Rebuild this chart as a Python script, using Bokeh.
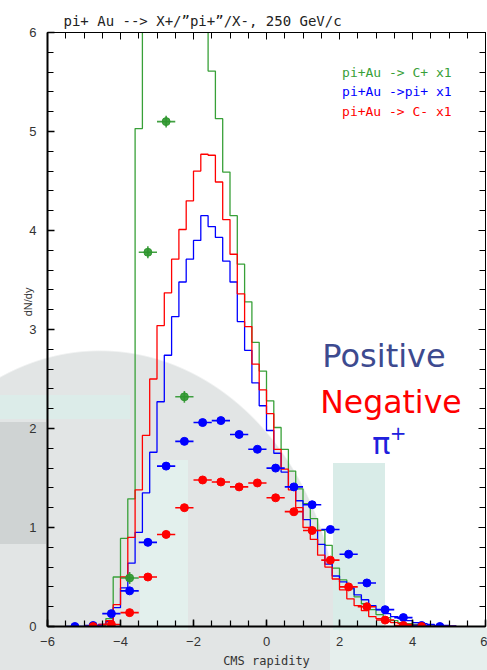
import numpy as np
from bokeh.plotting import figure
from bokeh.models import Range1d, LinearAxis, SingleIntervalTicker, Label
from bokeh.embed import file_html
from bokeh.resources import INLINE

# ---------------- data ----------------
bin_width = 0.2
bin_left = [round(-5.0 + 0.2 * i, 1) for i in range(51)]   # -5.0 ... 5.0

hist_cplus = [0, 0.005, 0.01, 0.08, 0.5, 0.89, 1.29, 5.03, 6.6, 7.4,
              8.0, 8.5, 8.7, 8.6, 8.2, 7.5, 6.7, 5.61, 5.13, 4.59,
              4.15, 3.66, 3.28, 2.87, 2.58,
              2.28, 2.01, 1.79, 1.57, 1.39, 1.24, 1.09, 0.97, 0.82, 0.59,
              0.47, 0.38, 0.30, 0.23, 0.17, 0.12, 0.09, 0.06, 0.04, 0.03,
              0.02, 0.01, 0.005, 0, 0, 0]
hist_piplus = [0.005, 0.01, 0.02, 0.05, 0.19, 0.39, 0.64, 0.95, 1.35, 1.76,
               2.27, 2.74, 3.13, 3.48, 3.71, 3.90, 4.15, 4.04, 3.93, 3.69,
               3.48, 3.08, 2.79, 2.46, 2.23,
               1.98, 1.75, 1.56, 1.41, 1.27, 1.08, 0.97, 0.83, 0.63, 0.51,
               0.45, 0.39, 0.32, 0.27, 0.21, 0.17, 0.13, 0.10, 0.08, 0.06,
               0.04, 0.03, 0.02, 0.01, 0.01, 0.005]
hist_cminus = [0, 0.005, 0.02, 0.06, 0.22, 0.50, 0.90, 1.38, 1.93, 2.50,
               3.04, 3.37, 3.71, 4.01, 4.30, 4.60, 4.77, 4.76, 4.49, 4.11,
               3.76, 3.36, 3.03, 2.65, 2.39,
               2.15, 1.79, 1.59, 1.38, 1.20, 1.00, 0.88, 0.72, 0.60, 0.48,
               0.37, 0.28, 0.21, 0.16, 0.10, 0.08, 0.05, 0.04, 0.03, 0.02,
               0.01, 0.005, 0, 0, 0, 0]

pts_green_x = [-3.75, -3.25, -2.75, -2.25]
pts_green_y = [0.49, 3.78, 5.10, 2.32]

pts_blue_x = [-5.25, -4.75, -4.25, -3.75, -3.25, -2.75, -2.25, -1.75, -1.25, -0.75,
              -0.25, 0.25, 0.75, 1.25, 1.75, 2.25, 2.75, 3.25, 3.75, 4.25, 4.75]
pts_blue_y = [0.0, 0.01, 0.13, 0.36, 0.85, 1.62, 1.87, 2.06, 2.08, 1.94,
              1.79, 1.60, 1.41, 1.23, 0.98, 0.73, 0.44, 0.17, 0.09, 0.01, 0.0]

pts_red_x = [-4.75, -4.25, -3.75, -3.25, -2.75, -2.25, -1.75, -1.25, -0.75, -0.25,
             0.25, 0.75, 1.25, 1.75, 2.25, 2.75, 3.25, 3.75, 4.25]
pts_red_y = [0.0, 0.02, 0.14, 0.50, 0.93, 1.20, 1.48, 1.46, 1.41, 1.45,
             1.30, 1.16, 0.97, 0.67, 0.40, 0.20, 0.065, 0.01, 0.0]

x_err = 0.25
green_y_err = 0.06

title_text = "pi+ Au --> X+/\u201dpi+\u201d/X-, 250 GeV/c"
legend_texts = ["pi+Au -> C+ x1", "pi+Au ->pi+ x1", "pi+Au -> C- x1"]

GREEN = "#38a038"
BLUE = "#0000ff"
RED = "#ff0000"

# ---------------- figure ----------------
p = figure(width=487, height=670,
           x_range=Range1d(-6, 6), y_range=Range1d(0, 6),
           output_backend="svg", toolbar_location=None,
           min_border_left=47, min_border_right=2,
           min_border_top=32, min_border_bottom=44)
p.xgrid.visible = False
p.ygrid.visible = False
p.outline_line_color = None
p.border_fill_color = None
p.background_fill_color = None
p.styles = {
    "background":
        "linear-gradient(#d9ece8,#d9ece8) 333px 463px / 52px 167px no-repeat,"
        "linear-gradient(#e3f0ed,#e3f0ed) 140px 460px / 48px 170px no-repeat,"
        "linear-gradient(#dcece9,#dcece9) 0px 395px / 130px 24px no-repeat,"
        "linear-gradient(#cfd3d3,#cfd3d3) 0px 422px / 46px 122px no-repeat,"
        "linear-gradient(#e6efed,#e6efed) 330px 628px / 157px 42px no-repeat,"
        "radial-gradient(240px 290px at 100px 640px, #e2e5e5 99.4%, rgba(255,255,255,0) 100%),"
        "#ffffff"
}

p.title.text = title_text
p.title.text_font = "DejaVu Sans Mono"
p.title.text_font_size = "14px"
p.title.text_font_style = "normal"
p.title.text_color = "#222222"
p.title.align = "left"
p.title.offset = 16
p.title.standoff = 8

p.xaxis.ticker = SingleIntervalTicker(interval=2, num_minor_ticks=4)
p.yaxis.ticker = SingleIntervalTicker(interval=1, num_minor_ticks=5)
for ax in (p.xaxis[0], p.yaxis[0]):
    ax.major_tick_in = 7
    ax.major_tick_out = 0
    ax.minor_tick_in = 6
    ax.minor_tick_out = 0
    ax.axis_line_width = 2
    ax.major_tick_line_width = 1.5
    ax.minor_tick_line_width = 1.2
    ax.major_label_text_font = "Liberation Sans"
    ax.major_label_text_font_size = "13px"
    ax.major_label_text_color = "#333333"
p.xaxis.major_label_standoff = 10
p.yaxis.major_label_standoff = 11
p.xaxis.axis_label = "CMS rapidity"
p.xaxis.axis_label_text_font = "DejaVu Sans Mono"
p.xaxis.axis_label_text_font_style = "normal"
p.xaxis.axis_label_text_font_size = "12px"
p.xaxis.axis_label_text_color = "#333333"
p.xaxis.axis_label_standoff = 5
p.yaxis.axis_label = "\u00a0" * 18 + "dN/dy"
p.yaxis.axis_label_text_font = "Liberation Sans"
p.yaxis.axis_label_text_font_style = "normal"
p.yaxis.axis_label_text_font_size = "11px"
p.yaxis.axis_label_text_color = "#333333"
p.yaxis.axis_label_standoff = -8

for loc, tk in (("above", SingleIntervalTicker(interval=2, num_minor_ticks=4)),
                ("right", SingleIntervalTicker(interval=1, num_minor_ticks=5))):
    ax = LinearAxis(ticker=tk, major_label_text_color=None,
                    major_label_standoff=0, major_tick_in=7, major_tick_out=0,
                    minor_tick_in=6, minor_tick_out=0, axis_line_width=1)
    p.add_layout(ax, loc)

# histograms
edges = bin_left + [round(bin_left[-1] + bin_width, 1)]
for vals, col in ((hist_cplus, GREEN), (hist_piplus, BLUE), (hist_cminus, RED)):
    p.step(x=edges, y=vals + [vals[-1]], mode="after", line_color=col, line_width=1.3)

# data points with error bars
def points(xs, ys, col, yerr=None, alpha=1.0):
    xs = np.array(xs)
    ys = np.array(ys)
    p.segment(x0=xs - x_err, y0=ys, x1=xs + x_err, y1=ys, line_color=col,
              line_width=1.6, line_alpha=alpha)
    if yerr is not None:
        p.segment(x0=xs, y0=ys - yerr, x1=xs, y1=ys + yerr, line_color=col,
                  line_width=1.6, line_alpha=alpha)
    p.scatter(x=xs, y=ys, size=8, fill_color=col, line_color=col, alpha=alpha)

points(pts_green_x, pts_green_y, "#2e962e", yerr=green_y_err, alpha=0.9)
points(pts_blue_x, pts_blue_y, BLUE)
points(pts_red_x, pts_red_y, RED)

# texts
for t, yy, col in zip(legend_texts, [5.60, 5.40, 5.20], [GREEN, BLUE, RED]):
    p.add_layout(Label(x=2.07, y=yy, text=t, text_font="DejaVu Sans Mono",
                       text_font_size="13px", text_color=col, text_baseline="middle"))

p.add_layout(Label(x=3.22, y=2.73, text="Positive", text_font="DejaVu Sans",
                   text_font_size="32px", text_color="#3d4a8f", text_align="center",
                   text_baseline="alphabetic"))
p.add_layout(Label(x=3.41, y=2.27, text="Negative", text_font="DejaVu Sans",
                   text_font_size="31.5px", text_color="#ff0000", text_align="center",
                   text_baseline="alphabetic"))
p.add_layout(Label(x=2.90, y=1.85, text="\u03c0", text_font="DejaVu Sans",
                   text_font_size="30px", text_color="#2020dd",
                   text_baseline="alphabetic"))
p.add_layout(Label(x=3.38, y=1.95, text="+", text_font="DejaVu Sans",
                   text_font_size="20px", text_color="#2020dd",
                   text_baseline="alphabetic"))

open("out.html", "w").write(file_html(p, INLINE))
